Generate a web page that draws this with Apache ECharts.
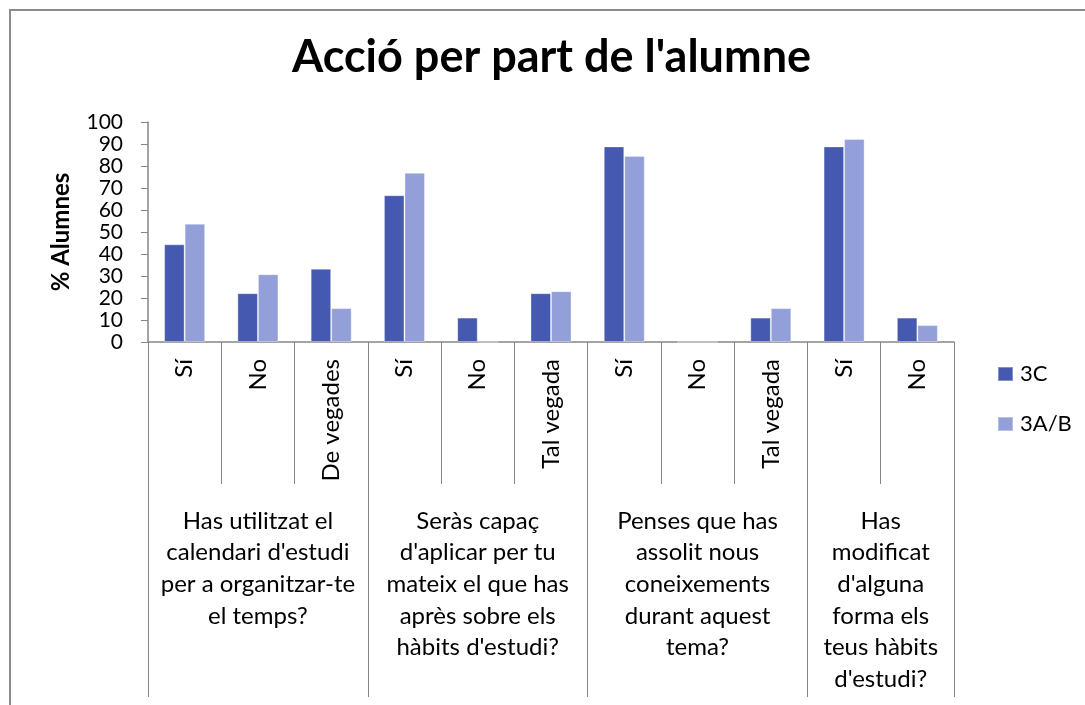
<!DOCTYPE html>
<html>
<head>
<meta charset="utf-8">
<script src="https://cdn.jsdelivr.net/npm/echarts@6/dist/echarts.min.js"></script>
<style>
  html, body { margin: 0; padding: 0; background: #fff; overflow: hidden; }
  #wrap { position: relative; width: 1085px; height: 705px; }
  #chart { position: absolute; left: 0; top: 0; width: 1085px; height: 705px; }
  #frame { position: absolute; left: 9px; top: 9px; width: 1100px; height: 720px;
           border: 2px solid #8c8c8c; pointer-events: none; }
</style>
</head>
<body>
<div id="wrap">
  <div id="chart"></div>
  <div id="frame"></div>
</div>
<script>
// dades
const subCategories = ['Sí', 'No', 'De vegades', 'Sí', 'No', 'Tal vegada', 'Sí', 'No', 'Tal vegada', 'Sí', 'No']
const groups = [
  'Has utilitzat el\ncalendari d\'estudi\nper a organitzar-te\nel temps?',
  'Seràs capaç\nd\'aplicar per tu\nmateix el que has\naprès sobre els\nhàbits d\'estudi?',
  'Penses que has\nassolit nous\nconeixements\ndurant aquest\ntema?',
  'Has\nmodificat\nd\'alguna\nforma els\nteus hàbits\nd\'estudi?'
]
const groupBounds = [0, 3, 6, 9, 11]
const groupCenters = [1.5, 4.5, 7.5, 10]
const values3C = [44.4, 22.2, 33.3, 66.7, 11.1, 22.2, 88.9, 0, 11.1, 88.9, 11.1]
const values3AB = [53.8, 30.8, 15.4, 76.9, 0, 23.1, 84.6, 0, 15.4, 92.3, 7.7]

const FONT = 'Lato, "Liberation Sans", sans-serif'
const AXIS_GREY = '#868686'

const chart = echarts.init(document.getElementById('chart'))

const option = {
  animation: false,
  title: {
    text: 'Acció per part de l\'alumne',
    left: 292,
    top: 35,
    padding: 0,
    textStyle: { fontFamily: FONT, fontSize: 45, fontWeight: 'bold', color: '#000' }
  },
  legend: {
    orient: 'vertical',
    left: 997,
    top: 363,
    padding: 0,
    itemWidth: 15,
    itemHeight: 14,
    itemGap: 28,
    icon: 'rect',
    textStyle: { fontFamily: FONT, fontSize: 22, color: '#000', padding: [0, 0, 0, 2] },
    data: ['3C', '3A/B']
  },
  grid: { left: 148, right: 131, top: 122, bottom: 363, containLabel: false },
  xAxis: [
    {
      type: 'category',
      data: subCategories,
      position: 'bottom',
      axisLine: { show: true, lineStyle: { color: AXIS_GREY, width: 1.5 } },
      axisTick: { show: true, interval: 0, length: 142, lineStyle: { color: AXIS_GREY } },
      axisLabel: {
        interval: 0,
        rotate: 90,
        margin: 17,
        fontFamily: FONT,
        fontSize: 24,
        color: '#000'
      }
    },
    {
      // segon nivell: grups de preguntes
      type: 'value',
      min: 0,
      max: 11,
      position: 'bottom',
      axisLine: { show: false },
      splitLine: { show: false },
      axisTick: { show: true, customValues: groupBounds, length: 355, lineStyle: { color: AXIS_GREY } },
      axisLabel: {
        customValues: groupCenters,
        margin: 163,
        fontFamily: FONT,
        fontSize: 24,
        lineHeight: 31.7,
        color: '#000',
        align: 'center',
        formatter: function (v) {
          const i = groupCenters.indexOf(v)
          return i >= 0 ? groups[i] : ''
        }
      }
    }
  ],
  yAxis: {
    type: 'value',
    min: 0,
    max: 100,
    interval: 10,
    name: '% Alumnes',
    nameLocation: 'middle',
    nameGap: 75,
    nameTextStyle: { fontFamily: FONT, fontSize: 24, fontWeight: 'bold', color: '#000' },
    axisLine: { show: true, lineStyle: { color: AXIS_GREY, width: 1.5 } },
    axisTick: { show: true, length: 7, lineStyle: { color: AXIS_GREY } },
    splitLine: { show: false },
    axisLabel: {
      margin: 25,
      fontFamily: FONT,
      fontSize: 21,
      color: '#000'
    }
  },
  series: [
    {
      name: '3C',
      type: 'bar',
      xAxisIndex: 0,
      data: values3C,
      barGap: '0%',
      barCategoryGap: '44%',
      itemStyle: { color: '#4459AF', borderColor: 'rgba(255,255,255,0.35)', borderWidth: 1 }
    },
    {
      name: '3A/B',
      type: 'bar',
      xAxisIndex: 0,
      data: values3AB,
      barGap: '0%',
      barCategoryGap: '44%',
      itemStyle: { color: '#939FD9', borderColor: 'rgba(255,255,255,0.35)', borderWidth: 1 }
    }
  ]
}

chart.setOption(option)
</script>
</body>
</html>
